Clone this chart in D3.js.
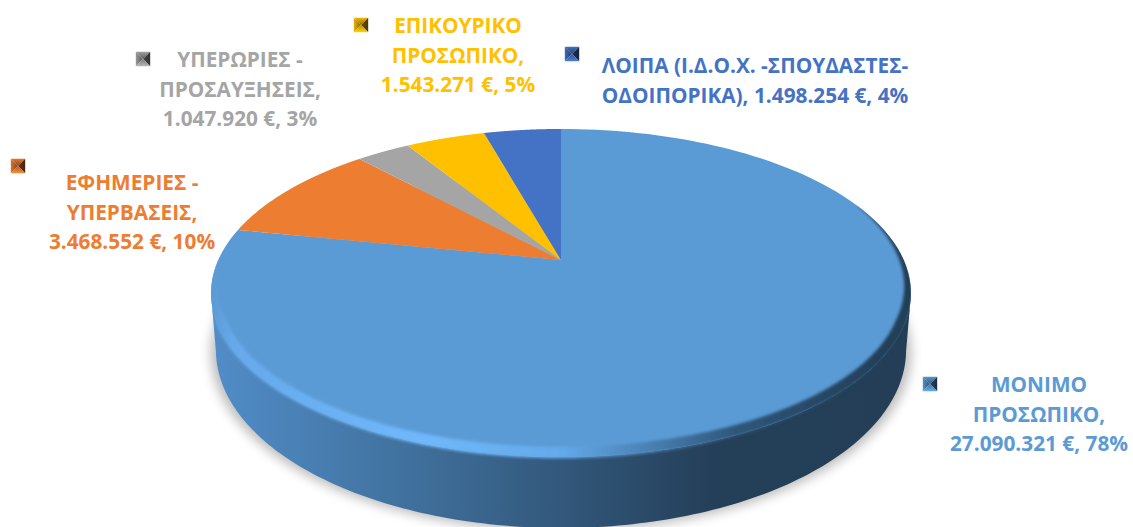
<!DOCTYPE html>
<html><head><meta charset="utf-8">
<script src="https://cdn.jsdelivr.net/npm/d3@7"></script>
<style>html,body{margin:0;background:#fff}svg{display:block}</style>
</head><body><svg id="c" width="1133" height="527"></svg>
<script>
const categories = ["ΜΟΝΙΜΟ ΠΡΟΣΩΠΙΚΟ","ΕΦΗΜΕΡΙΕΣ - ΥΠΕΡΒΑΣΕΙΣ","ΥΠΕΡΩΡΙΕΣ - ΠΡΟΣΑΥΞΗΣΕΙΣ","ΕΠΙΚΟΥΡΙΚΟ ΠΡΟΣΩΠΙΚΟ","ΛΟΙΠΑ (Ι.Δ.Ο.Χ. -ΣΠΟΥΔΑΣΤΕΣ-ΟΔΟΙΠΟΡΙΚΑ)"];
const values = [27090321,3468552,1047920,1543271,1498254];
const valueLabels = ["27.090.321 €, 78%","3.468.552 €, 10%","1.047.920 €, 3%","1.543.271 €, 5%","1.498.254 €, 4%"];
const colors = ["#5B9BD5","#ED7D31","#A5A5A5","#FFC000","#4472C4"];
const labelLines = [
 ["ΜΟΝΙΜΟ","ΠΡΟΣΩΠΙΚΟ,",valueLabels[0]],
 ["ΕΦΗΜΕΡΙΕΣ -","ΥΠΕΡΒΑΣΕΙΣ,",valueLabels[1]],
 ["ΥΠΕΡΩΡΙΕΣ -","ΠΡΟΣΑΥΞΗΣΕΙΣ,",valueLabels[2]],
 ["ΕΠΙΚΟΥΡΙΚΟ","ΠΡΟΣΩΠΙΚΟ,",valueLabels[3]],
 ["ΛΟΙΠΑ (Ι.Δ.Ο.Χ. -ΣΠΟΥΔΑΣΤΕΣ-","ΟΔΟΙΠΟΡΙΚΑ), "+valueLabels[4]]
];
const labelAnchors = [[1039,392],[132,190],[240,67],[458,33],[755,73]];
const markerAnchors = [[930,384],[18,166],[143,59],[361,25],[572,54]];
const svg = d3.select("#c"), defs = svg.append("defs");
const cx=561, cy=260, K=342.8, B=157.4, P=0.2013;
const proj = (a,o={}) => { const s=o.sx||1, t=o.sy||1, dy=o.dy||0;
  const u=Math.sin(a), v=Math.cos(a), w=1+P*v;
  return [cx+s*K*u/w, cy+dy+t*B*(-v)/w]; };
const pie = d3.pie().sort(null).value(d=>d);
const arcs = pie(values);
const sample = (a0,a1,o) => d3.range(0,161).map(i=>proj(a0+(a1-a0)*i/160,o));
const line = d3.line();
const full = sample(0,2*Math.PI);
const bottomOpt={sx:0.986,sy:1.085,dy:54.2};
const a0=Math.PI*0.567, a1=Math.PI*1.433;
const sidePts = sample(a0,a1).concat(sample(a1,a0,bottomOpt));

const hGrad=(id,stops)=>{const g=defs.append("linearGradient").attr("id",id).attr("gradientUnits","userSpaceOnUse")
 .attr("x1",212).attr("x2",911).attr("y1",0).attr("y2",0);
 stops.forEach(d=>g.append("stop").attr("offset",d[0]).attr("stop-color",d[1]));};
hGrad("side",[[0,"#518dc8"],[0.27,"#41729f"],[0.55,"#2f5273"],[0.72,"#243f58"],[1,"#233e56"]]);
hGrad("rim",[[0,"#5B9BD5"],[0.03,"#66a9ea"],[0.3,"#70b8fb"],[0.5,"#64a9ea"],[0.62,"#4a82b5"],[0.75,"#2f5679"],[0.9,"#254460"],[1,"#233e56"]]);
defs.append("filter").attr("id","sh").attr("x","-10%").attr("y","-10%").attr("width","120%").attr("height","130%")
 .append("feGaussianBlur").attr("stdDeviation",6);
defs.append("filter").attr("id","soft").attr("x","-5%").attr("y","-5%").attr("width","110%").attr("height","110%")
 .append("feGaussianBlur").attr("stdDeviation",1.8);
defs.append("clipPath").attr("id","bodyClip").append("path").attr("d",line(full)+"Z "+line(sidePts)+"Z");

// shadow
svg.append("path").attr("d",line(sample(0,2*Math.PI,{sx:1.0,sy:1.085,dy:57}))+"Z").attr("fill","#000").attr("opacity",0.27).attr("filter","url(#sh)");
// side wall
svg.append("path").attr("d",line(sidePts)+"Z").attr("fill","url(#side)");
// slices
arcs.forEach((d,i)=>{
  const pts=[[cx,cy]].concat(sample(d.startAngle,d.endAngle));
  svg.append("path").attr("d",line(pts)+"Z").attr("fill",colors[i]);
});
// bevel along the front rim of the first slice: a band that tapers towards both ends
const bStart=Math.PI*0.38, bEnd=Math.PI*1.5;
const taper=d3.scaleLinear().domain([bStart,Math.PI*0.62,Math.PI*1.38,bEnd]).range([0,1,1,0]).clamp(true);
const bandAngles=d3.range(0,241).map(i=>bStart+(bEnd-bStart)*i/240);
const bandInner=bandAngles.map(a=>{const t=taper(a);return proj(a,{sx:1-0.026*t,sy:1-0.052*t});});
const bandOuter=bandAngles.map(a=>proj(a,{sx:1.004,sy:1.006})).reverse();
svg.append("g").attr("clip-path","url(#bodyClip)").append("path")
 .attr("d",line(bandInner.concat(bandOuter))+"Z")
 .attr("fill","url(#rim)").attr("filter","url(#soft)");

// markers: small bevelled pyramids
const mk=svg.append("g");
const S=7.2;
const faceDefs=[
 {p:[[-S,-S],[S,-S],[0,0]], dir:[0,1], edge:c=>c.darker(0.1), mid:c=>c.darker(1.6)},
 {p:[[-S,-S],[-S,S],[0,0]], dir:[1,0], edge:c=>c.darker(0.2), mid:c=>c.darker(1.8)},
 {p:[[S,-S],[S,S],[0,0]],  dir:[-1,0], edge:c=>c.darker(3.4), mid:c=>c.darker(2.4)},
 {p:[[-S,S],[S,S],[0,0]],  dir:[0,-1], edge:c=>c.brighter(0.3), mid:c=>c.darker(0.9)}
];
markerAnchors.forEach((m,i)=>{
  const c=d3.color(colors[i]);
  faceDefs.forEach((f,j)=>{
    const id=`m${i}_${j}`;
    const g=defs.append("linearGradient").attr("id",id)
      .attr("x1",f.dir[0]<0?1:0).attr("x2",f.dir[0]>0?1:0).attr("y1",f.dir[1]<0?1:0).attr("y2",f.dir[1]>0?1:0);
    g.append("stop").attr("offset",0).attr("stop-color",f.edge(c));
    g.append("stop").attr("offset",1).attr("stop-color",f.mid(c));
    mk.append("path").attr("transform",`translate(${m[0]},${m[1]})`).attr("d",line(f.p)+"Z").attr("fill",`url(#${id})`);
  });
});
// labels
labelLines.forEach((ls,i)=>{
  const t=svg.append("text").attr("text-anchor","middle").attr("font-family","'Open Sans',sans-serif").attr("font-weight",700).attr("font-size",20.8).attr("fill",colors[i]);
  ls.forEach((s,j)=>t.append("tspan").attr("x",labelAnchors[i][0]).attr("y",labelAnchors[i][1]+j*29.5).text(s));
});
</script></body></html>
